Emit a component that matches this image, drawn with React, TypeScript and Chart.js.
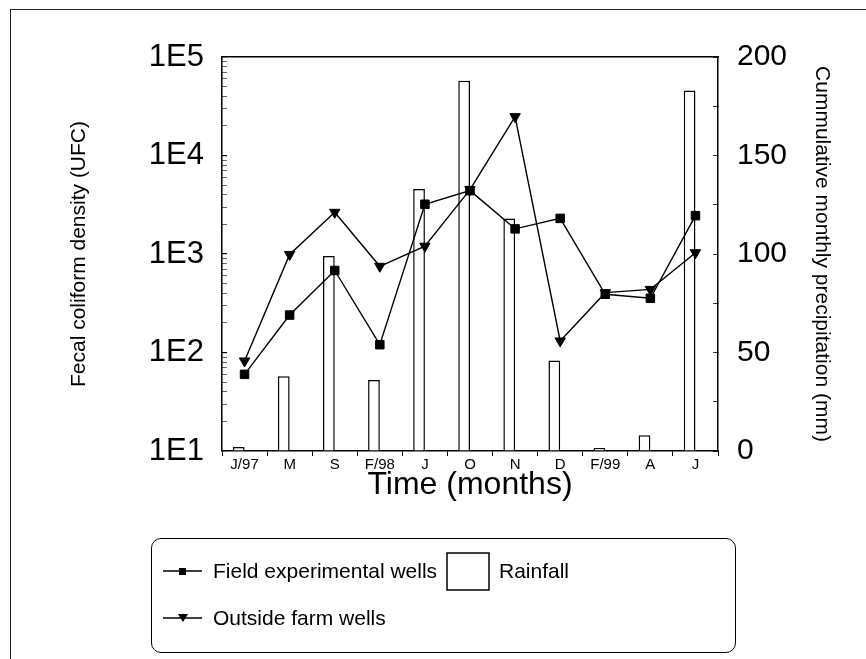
import React, { useEffect, useRef } from 'react';
import { Chart, registerables } from 'chart.js';

Chart.register(...registerables);

const months = ['J/97', 'M', 'S', 'F/98', 'J', 'O', 'N', 'D', 'F/99', 'A', 'J'];
const fieldWells = [60, 240, 680, 120, 3200, 4400, 1800, 2300, 390, 355, 2450];
const outsideWells = [82, 990, 2650, 750, 1200, 4500, 24800, 131, 405, 437, 1030];
const rainfall = [2, 38, 99, 36, 133, 188, 118, 46, 1.5, 8, 183];

const logTickValues = [10, 100, 1000, 10000, 100000];
const logTickLabels = ['1E1', '1E2', '1E3', '1E4', '1E5'];
const logMultipliers = [1, 2, 3, 4, 5, 6, 7, 8, 9];
const rainTicks = [0, 50, 100, 150, 200];

const FONT = "'Liberation Sans', Arial, Helvetica, sans-serif";

function buildLogTicks() {
  const out: { value: number; major: boolean }[] = [];
  for (let d = 0; d < logTickValues.length - 1; d++) {
    for (const m of logMultipliers) {
      out.push({ value: logTickValues[d] * m, major: m === 1 });
    }
  }
  out.push({ value: logTickValues[logTickValues.length - 1], major: true });
  return out;
}

export default function App() {
  const ref = useRef<HTMLCanvasElement>(null);

  useEffect(() => {
    document.body.style.margin = '0';
    const chart = new Chart(ref.current as HTMLCanvasElement, {
      type: 'bar',
      data: {
        labels: months,
        datasets: [
          {
            type: 'line',
            label: 'Field experimental wells',
            data: fieldWells,
            yAxisID: 'y',
            borderColor: '#000',
            backgroundColor: '#000',
            borderWidth: 1.4,
            pointStyle: 'rect',
            pointRadius: 6,
            pointBorderWidth: 1,
            pointBorderColor: '#000',
            pointBackgroundColor: '#000',
            order: 1,
          } as any,
          {
            type: 'line',
            label: 'Outside farm wells',
            data: outsideWells,
            yAxisID: 'y',
            borderColor: '#000',
            backgroundColor: '#000',
            borderWidth: 1.4,
            pointStyle: 'triangle',
            pointRotation: 180,
            pointRadius: 6,
            pointBorderWidth: 1,
            pointBorderColor: '#000',
            pointBackgroundColor: '#000',
            order: 2,
          } as any,
          {
            type: 'bar',
            label: 'Rainfall',
            data: rainfall,
            yAxisID: 'y2',
            backgroundColor: '#fff',
            borderColor: '#000',
            borderWidth: 1.5,
            barPercentage: 1,
            categoryPercentage: 0.52,
            order: 3,
          } as any,
          {
            type: 'bar',
            label: '',
            data: months.map(() => null),
            yAxisID: 'y2',
            barPercentage: 1,
            categoryPercentage: 0.52,
            order: 3,
          } as any,
        ],
      },
      options: {
        responsive: false,
        animation: false,
        events: [],
        layout: { padding: { left: 0, right: 0, top: 57, bottom: 152 } },
        plugins: { legend: { display: false }, tooltip: { enabled: false } },
        scales: {
          x: {
            type: 'category',
            position: 'bottom',
            grid: {
              display: true,
              drawOnChartArea: false,
              drawTicks: true,
              tickLength: 5,
              color: '#000',
              lineWidth: 1,
              offset: true,
            },
            border: { display: true, color: '#000', width: 1.5 },
            ticks: {
              color: '#000',
              font: { family: FONT, size: 15 },
              padding: 0,
              maxRotation: 0,
              autoSkip: false,
            },
            title: {
              display: true,
              text: 'Time (months)',
              color: '#000',
              font: { family: FONT, size: 32 },
              padding: { top: 0, bottom: 3 },
            },
            afterFit: (s: any) => {
              s.height = 56;
            },
          },
          xTop: {
            type: 'category',
            position: 'top',
            grid: { display: false },
            border: { display: true, color: '#000', width: 1.5 },
            ticks: { display: false },
            afterFit: (s: any) => {
              s.height = 0;
            },
          },
          y: {
            type: 'logarithmic',
            position: 'left',
            min: 10,
            max: 100000,
            afterBuildTicks: (s: any) => {
              s.ticks = buildLogTicks();
            },
            ticks: {
              autoSkip: false,
              color: '#000',
              font: { family: FONT, size: 31 },
              padding: 23,
              callback: (v: any) => {
                const i = logTickValues.indexOf(Number(v));
                return i >= 0 ? logTickLabels[i] : '';
              },
            },
            grid: {
              display: true,
              drawOnChartArea: false,
              drawTicks: true,
              tickLength: -5,
              color: '#000',
              lineWidth: (c: any) => (c.tick && c.tick.major ? 1.2 : 0.6),
            },
            border: { display: true, color: '#000', width: 1.5 },
            title: {
              display: true,
              text: 'Fecal coliform density (UFC)',
              color: '#000',
              font: { family: FONT, size: 21 },
              padding: { top: 67, bottom: 0 },
            },
            afterFit: (s: any) => {
              s.width = 222;
            },
          },
          y2: {
            type: 'linear',
            position: 'right',
            min: 0,
            max: 200,
            ticks: {
              stepSize: 25,
              autoSkip: false,
              color: '#000',
              font: { family: FONT, size: 30 },
              padding: 24,
              callback: (v: any) => (rainTicks.includes(Number(v)) ? String(v) : ''),
            },
            grid: {
              display: true,
              drawOnChartArea: false,
              drawTicks: true,
              tickLength: -5,
              color: '#000',
              lineWidth: 0.8,
            },
            border: { display: true, color: '#000', width: 1.5 },
            title: {
              display: true,
              text: 'Cummulative monthly precipitation (mm)',
              color: '#000',
              font: { family: FONT, size: 21 },
              padding: { top: 32, bottom: 0 },
            },
            afterFit: (s: any) => {
              s.width = 148;
            },
          },
        },
      } as any,
    });
    return () => chart.destroy();
  }, []);

  const textStyle: React.CSSProperties = {
    position: 'absolute',
    fontFamily: FONT,
    fontSize: 21,
    lineHeight: '24px',
    height: 24,
    color: '#000',
    whiteSpace: 'nowrap',
  };

  return (
    <div style={{ position: 'absolute', left: 0, top: 0, width: 866, height: 659, overflow: 'hidden', background: '#fff' }}>
      <div
        style={{
          position: 'absolute',
          left: 10,
          top: 9,
          width: 870,
          height: 660,
          borderLeft: '1.5px solid #222',
          borderTop: '1.5px solid #222',
        }}
      />
      <canvas ref={ref} width={866} height={659} style={{ position: 'absolute', left: 0, top: 0, display: 'block' }} />
      <div
        style={{
          position: 'absolute',
          left: 151,
          top: 538,
          width: 583,
          height: 113,
          border: '1.5px solid #000',
          borderRadius: 10,
        }}
      />
      <svg style={{ position: 'absolute', left: 0, top: 0 }} width={866} height={659}>
        <line x1={163} y1={571} x2={202} y2={571} stroke="#000" strokeWidth={1.5} />
        <rect x={179} y={568} width={7} height={7} fill="#000" />
        <line x1={163} y1={618} x2={202} y2={618} stroke="#000" strokeWidth={1.5} />
        <polygon points="178,614 188,614 183,622" fill="#000" />
        <rect x={447} y={553} width={42} height={37} fill="#fff" stroke="#000" strokeWidth={1.5} />
      </svg>
      <div style={{ ...textStyle, left: 213, top: 559 }}>Field experimental wells</div>
      <div style={{ ...textStyle, left: 499, top: 559 }}>Rainfall</div>
      <div style={{ ...textStyle, left: 213, top: 606 }}>Outside farm wells</div>
    </div>
  );
}
